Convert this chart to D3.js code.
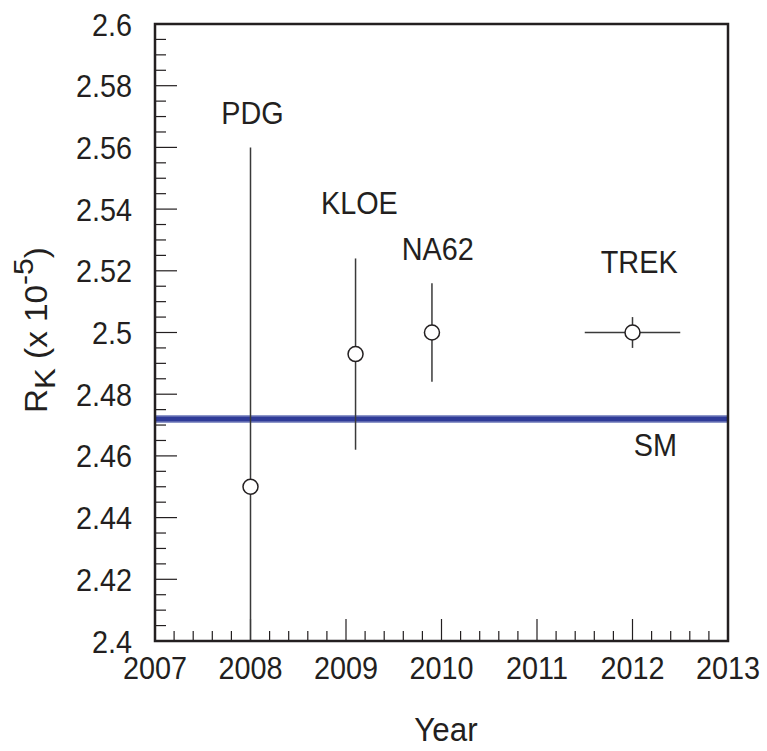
<!DOCTYPE html>
<html><head><meta charset="utf-8">
<script src="https://cdn.jsdelivr.net/npm/d3@7/dist/d3.min.js"></script>
<style>body{margin:0;background:#fff}svg{display:block}text{font-family:"Liberation Sans",Arial,sans-serif;fill:#231f20}</style>
</head><body><svg id="c" width="767" height="751"></svg>
<script>
const experiments = ["PDG", "KLOE", "NA62", "TREK"];
const years = [2008, 2009.1, 2009.9, 2012];
const values = [2.45, 2.493, 2.500, 2.500];
const yErrors = [0.11, 0.031, 0.016, 0.005];
const xErrors = [0, 0, 0, 0.5];
const smValue = 2.472;
const labelX = [2008.02, 2009.14, 2009.96, 2012.07];
const labelY = [2.5676, 2.5384, 2.5235, 2.5193];
const smLabel = {text: "SM", x: 2012.24, y: 2.460};
const xTicks = [2007, 2008, 2009, 2010, 2011, 2012, 2013];
const yTicks = [2.4, 2.42, 2.44, 2.46, 2.48, 2.5, 2.52, 2.54, 2.56, 2.58, 2.6];

const svg = d3.select("#c");
const L = 155, R = 728, T = 24, B = 641;
const x = d3.scaleLinear().domain([2007, 2013]).range([L, R]);
const y = d3.scaleLinear().domain([2.4, 2.6]).range([B, T]);
const ink = "#231f20";
const FS = 31, SX = 0.93;

function label(sel, px, py, anchor, size, sx) {
  return sel.append("text")
    .attr("transform", `translate(${px},${py}) scale(${sx},1)`)
    .attr("text-anchor", anchor).attr("font-size", size);
}

svg.append("clipPath").attr("id", "clip").append("rect").attr("x", L).attr("y", T).attr("width", R - L).attr("height", B - T);

// ticks
const yMinor = d3.range(0, 41).map(i => 2.4 + i * 0.005).filter(v => Math.abs(Math.round(v * 50) - v * 50) > 1e-6);
svg.selectAll(".ymin").data(yMinor).join("line")
  .attr("x1", L).attr("x2", L + 11).attr("y1", d => y(d)).attr("y2", d => y(d))
  .attr("stroke", ink).attr("stroke-width", 1.2);
svg.selectAll(".ymaj").data(yTicks).join("line")
  .attr("x1", L).attr("x2", L + 22).attr("y1", d => y(d)).attr("y2", d => y(d))
  .attr("stroke", ink).attr("stroke-width", 1.2);
const xMinor = d3.range(0, 31).map(i => 2007 + i * 0.2).filter(v => Math.abs(Math.round(v) - v) > 1e-6);
svg.selectAll(".xmin").data(xMinor).join("line")
  .attr("x1", d => x(d)).attr("x2", d => x(d)).attr("y1", B).attr("y2", B - 10)
  .attr("stroke", ink).attr("stroke-width", 1.2);
svg.selectAll(".xmaj").data(xTicks).join("line")
  .attr("x1", d => x(d)).attr("x2", d => x(d)).attr("y1", B).attr("y2", B - 22)
  .attr("stroke", ink).attr("stroke-width", 1.2);

// tick labels
yTicks.forEach(d => label(svg, L - 23, y(d) + 11.5, "end", FS, SX).text(String(+d.toFixed(2))));
xTicks.forEach(d => label(svg, x(d), B + 38, "middle", FS, SX).text(d));

// SM band
const gSM = svg.append("g").attr("clip-path", "url(#clip)");
gSM.append("line").attr("x1", L).attr("x2", R).attr("y1", y(smValue)).attr("y2", y(smValue))
  .attr("stroke", "#8e97c9").attr("stroke-width", 8);
gSM.append("line").attr("x1", L).attr("x2", R).attr("y1", y(smValue)).attr("y2", y(smValue))
  .attr("stroke", "#2f3b98").attr("stroke-width", 5);

// data
const pts = experiments.map((n, i) => ({n, x: years[i], v: values[i], e: yErrors[i], ex: xErrors[i]}));
const gP = svg.append("g").attr("clip-path", "url(#clip)");
gP.selectAll(".ey").data(pts).join("line")
  .attr("x1", d => x(d.x)).attr("x2", d => x(d.x))
  .attr("y1", d => y(d.v - d.e)).attr("y2", d => y(d.v + d.e))
  .attr("stroke", "#3a3a3a").attr("stroke-width", 1.5);
gP.selectAll(".ex").data(pts.filter(d => d.ex > 0)).join("line")
  .attr("x1", d => x(d.x - d.ex)).attr("x2", d => x(d.x + d.ex))
  .attr("y1", d => y(d.v)).attr("y2", d => y(d.v))
  .attr("stroke", "#3a3a3a").attr("stroke-width", 1.5);
gP.selectAll("circle").data(pts).join("circle")
  .attr("cx", d => x(d.x)).attr("cy", d => y(d.v)).attr("r", 7.5)
  .attr("fill", "#fff").attr("stroke", ink).attr("stroke-width", 1.5);

// labels
experiments.forEach((d, i) => label(svg, x(labelX[i]), y(labelY[i]), "middle", FS, SX).text(d));
label(svg, x(smLabel.x), y(smLabel.y), "middle", FS, SX).text(smLabel.text);

// frame
svg.append("rect").attr("x", L).attr("y", T).attr("width", R - L).attr("height", B - T)
  .attr("fill", "none").attr("stroke", ink).attr("stroke-width", 2.5);

// axis titles
label(svg, 446, 741, "middle", 33, 0.95).text("Year");
const yt = svg.append("text").attr("transform", "translate(47,411) rotate(-90)")
  .attr("text-anchor", "start").attr("font-size", 31);
yt.append("tspan").text("R");
yt.append("tspan").attr("font-size", 29).attr("dy", 8).text("K");
yt.append("tspan").attr("dy", -8).text(" (x 10");
yt.append("tspan").attr("font-size", 28).attr("dy", -14).text("-5");
yt.append("tspan").attr("dy", 14).text(")");
const len = yt.node().getComputedTextLength();
yt.attr("transform", `translate(47,413) rotate(-90) scale(${166 / len},1)`);
</script></body></html>
